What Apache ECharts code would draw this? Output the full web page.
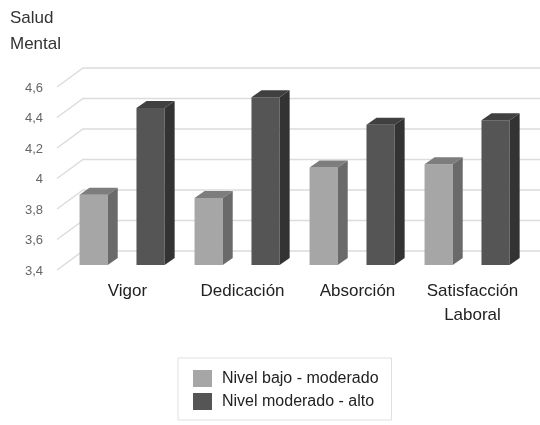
<!DOCTYPE html>
<html>
<head>
<meta charset="utf-8">
<script src="https://cdn.jsdelivr.net/npm/echarts@6/dist/echarts.min.js"></script>
<style>
  html, body { margin: 0; padding: 0; background: #fff; }
  #chart { width: 540px; height: 425px; }
</style>
</head>
<body>
<div id="chart"></div>
<script>
// datos del gráfico
var categorias = ["Vigor", "Dedicación", "Absorción", "Satisfacción\nLaboral"];
var nivelBajo = [3.86, 3.84, 4.04, 4.06];
var nivelAlto = [4.43, 4.50, 4.32, 4.35];
var ticksY = [3.4, 3.6, 3.8, 4.0, 4.2, 4.4, 4.6];
var nombres = ["Nivel bajo - moderado", "Nivel moderado - alto"];

var FONT = "Liberation Sans, Arial, sans-serif";
var DEPTH_X = 10, DEPTH_Y = -7;

// barra 3D: cara frontal, superior y lateral
function barra3D(offsetFrac, caras) {
  return function (params, api) {
    var cat = api.value(0);
    var top = api.coord([cat, api.value(1)]);
    var base = api.coord([cat, ticksY[0]]);
    var band = api.size([1, 0])[0];
    var w = band * 0.245;
    var x0 = top[0] + band * offsetFrac;
    var x1 = x0 + w;
    var yt = top[1], yb = base[1];
    return {
      type: "group",
      children: [
        { type: "rect", shape: { x: x0, y: yt, width: w, height: yb - yt },
          style: { fill: caras[0] } },
        { type: "polygon", shape: { points: [[x0, yt], [x0 + DEPTH_X, yt + DEPTH_Y], [x1 + DEPTH_X, yt + DEPTH_Y], [x1, yt]] },
          style: { fill: caras[1] } },
        { type: "polygon", shape: { points: [[x1, yt], [x1 + DEPTH_X, yt + DEPTH_Y], [x1 + DEPTH_X, yb + DEPTH_Y], [x1, yb]] },
          style: { fill: caras[2] } }
      ]
    };
  };
}

// líneas de la pared del fondo
function lineaPared(params, api) {
  var cs = params.coordSys;
  var y = api.coord([0, api.value(0)])[1];
  return {
    type: "polyline",
    shape: { points: [[cs.x - 13, y + 5], [cs.x + 13, y - 14], [cs.x + cs.width + 20, y - 14]] },
    style: { stroke: "#dcdcdc", lineWidth: 1.5, fill: null }
  };
}

var chart = echarts.init(document.getElementById("chart"));
chart.setOption({
  animation: false,
  textStyle: { fontFamily: FONT },
  title: {
    text: "Salud\nMental",
    left: 10, top: 5, padding: 0,
    textStyle: { fontSize: 17, fontWeight: "normal", color: "#333", lineHeight: 26, fontFamily: FONT }
  },
  legend: {
    orient: "vertical",
    left: 178, top: 358,
    padding: [12, 13, 10, 15],
    borderColor: "#e0e0e0", borderWidth: 1,
    itemWidth: 19, itemHeight: 17, itemGap: 6,
    icon: "rect",
    data: nombres,
    textStyle: { fontSize: 16, color: "#222", fontFamily: FONT, padding: [0, 0, 0, 5] }
  },
  grid: { left: 70, right: 10, top: 82, bottom: 160 },
  xAxis: {
    type: "category",
    data: categorias,
    axisLine: { show: false },
    axisTick: { show: false },
    axisLabel: { interval: 0, margin: 14, fontSize: 17, color: "#222", lineHeight: 24, fontFamily: FONT }
  },
  yAxis: {
    type: "value",
    min: 3.4, max: 4.6, interval: 0.2,
    splitLine: { show: false },
    axisLine: { show: false },
    axisTick: { show: false },
    axisLabel: {
      margin: 27, fontSize: 13, color: "#666", fontFamily: FONT,
      verticalAlign: "top", lineHeight: 12,
      formatter: function (v) { return String(+v.toFixed(1)).replace(".", ","); }
    }
  },
  series: [
    {
      type: "custom", name: "pared", silent: true, z: 1,
      renderItem: lineaPared,
      data: ticksY.map(function (t) { return [t]; }),
      encode: { y: 0 }
    },
    {
      type: "custom", name: nombres[0], z: 3,
      itemStyle: { color: "#a6a6a6" },
      renderItem: barra3D(-0.417, ["#a6a6a6", "#7d7d7d", "#6a6a6a"]),
      data: nivelBajo.map(function (v, i) { return [i, v]; }),
      encode: { x: 0, y: 1 }
    },
    {
      type: "custom", name: nombres[1], z: 3,
      itemStyle: { color: "#555555" },
      renderItem: barra3D(0.078, ["#555555", "#404040", "#333333"]),
      data: nivelAlto.map(function (v, i) { return [i, v]; }),
      encode: { x: 0, y: 1 }
    }
  ]
});
</script>
</body>
</html>
